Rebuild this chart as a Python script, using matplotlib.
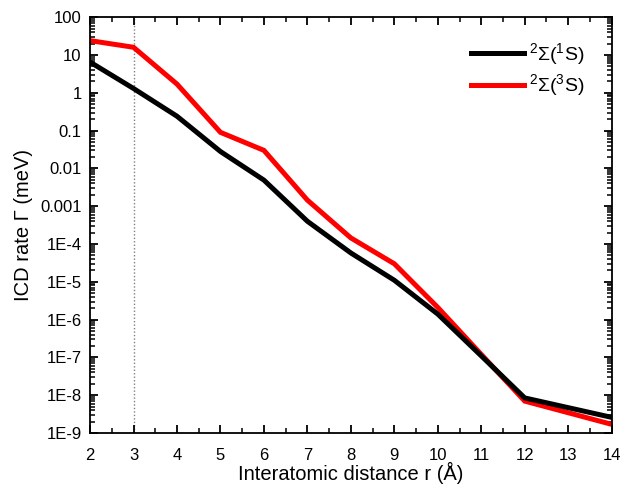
"""ICD rate vs interatomic distance, log scale."""

import matplotlib
matplotlib.use("Agg")
import matplotlib.pyplot as plt
import matplotlib.ticker as mticker

plt.rcParams["font.family"] = ["Liberation Sans", "DejaVu Sans"]
plt.rcParams["mathtext.fontset"] = "custom"
plt.rcParams["mathtext.rm"] = "Liberation Sans"
plt.rcParams["mathtext.it"] = "Liberation Sans:italic"
plt.rcParams["mathtext.default"] = "regular"

distance = [2, 3, 4, 5, 6, 7, 8, 9, 10, 11, 12, 14]
rate_1s = [6.5, 1.3, 0.24, 0.028, 0.0049, 4.0e-4, 5.8e-5, 1.1e-5, 1.4e-6, 1.1e-7, 8.5e-9, 2.6e-9]
rate_3s = [24, 16, 1.7, 0.09, 0.03, 1.45e-3, 1.45e-4, 3.0e-5, 2.1e-6, 1.2e-7, 7.0e-9, 1.7e-9]
labels = [r"$^{2}$Σ($^{1}$S)", r"$^{2}$Σ($^{3}$S)"]
ytick_vals = [1e2, 1e1, 1, 1e-1, 1e-2, 1e-3, 1e-4, 1e-5, 1e-6, 1e-7, 1e-8, 1e-9]
ytick_labels = ["100", "10", "1", "0.1", "0.01", "0.001",
                "1E-4", "1E-5", "1E-6", "1E-7", "1E-8", "1E-9"]

fig = plt.figure(figsize=(6.21, 4.91), dpi=100)
ax = fig.add_axes([0.145, 0.118, 0.840, 0.847])

ax.axvline(3, color="#808080", linestyle=(0, (1, 1.5)), linewidth=1.0, zorder=1)
ax.plot(distance, rate_1s, color="black", linewidth=3.6, label=labels[0],
        solid_joinstyle="miter", zorder=3)
ax.plot(distance, rate_3s, color="#ff0000", linewidth=3.6, label=labels[1],
        solid_joinstyle="miter", zorder=2)

ax.set_yscale("log")
ax.set_xlim(2, 14)
ax.set_ylim(1e-9, 100)
ax.set_xticks(range(2, 15))
ax.xaxis.set_minor_locator(mticker.MultipleLocator(0.5))
ax.set_yticks(ytick_vals)
ax.set_yticklabels(ytick_labels)
ax.yaxis.set_minor_locator(mticker.LogLocator(base=10, subs=range(2, 10), numticks=20))
ax.yaxis.set_minor_formatter(mticker.NullFormatter())

ax.tick_params(which="both", direction="in", top=True, right=True, labelsize=12)
ax.tick_params(which="major", length=6, width=1.3)
ax.tick_params(axis="x", which="major", pad=11)
ax.tick_params(axis="y", which="major", pad=6)
ax.tick_params(which="minor", length=3.5, width=1.1)
for spine in ax.spines.values():
    spine.set_linewidth(1.3)

ax.set_xlabel("Interatomic distance r (Å)", fontsize=14.5, labelpad=-1)
ax.set_ylabel("ICD rate Γ (meV)", fontsize=14.5, labelpad=5)

ax.legend(loc="upper right", frameon=False, fontsize=14, handlelength=2.7,
          handletextpad=0.25, borderaxespad=0, borderpad=0.4, labelspacing=0.3,
          bbox_to_anchor=(0.962, 0.962))

fig.savefig("out.png", dpi=100)
